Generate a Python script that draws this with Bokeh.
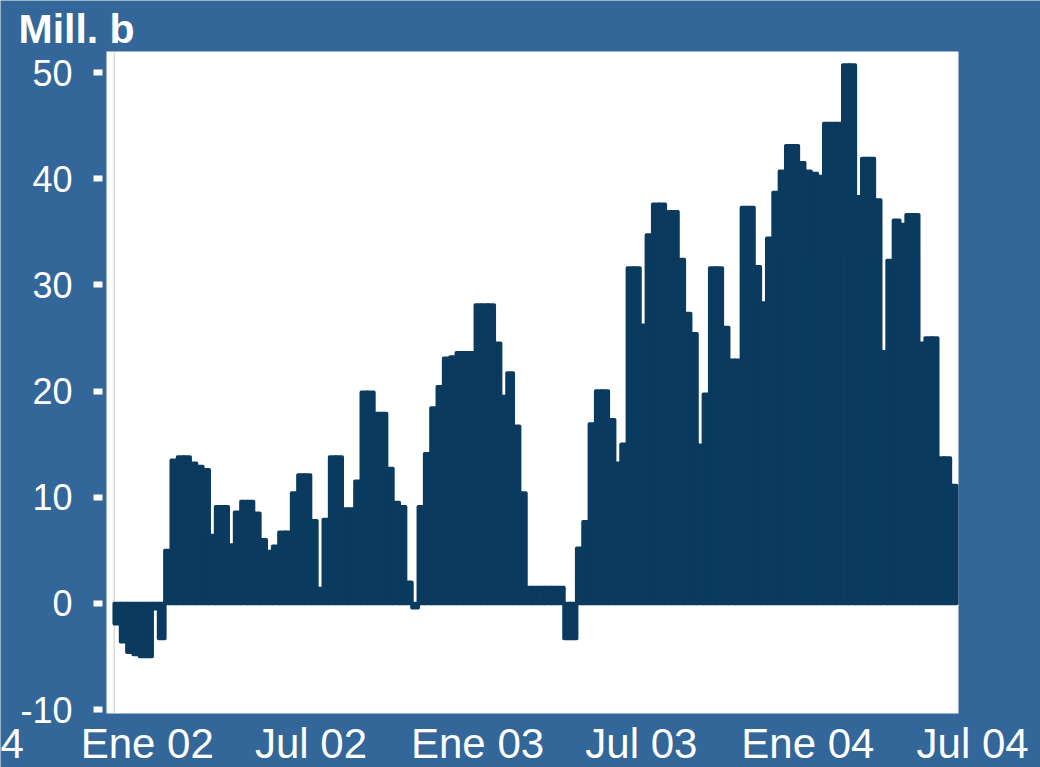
from datetime import datetime, timedelta

from bokeh.plotting import figure
from bokeh.models import Range1d, Label, FixedTicker, ColumnDataSource, BoxAnnotation
from bokeh.embed import file_html
from bokeh.resources import INLINE

# ---------------- data (weekly, Mill. b) ----------------
first_week = datetime(2001, 11, 29)
values = [
    -1.9, -3.6, -4.6, -4.8, -5.0, -5.0, -0.5, -3.3, 5.0, 13.5,
    13.8, 13.8, 13.2, 12.9, 12.6, 6.4, 9.1, 9.1, 5.5, 8.6,
    9.6, 9.6, 8.5, 6.0, 4.9, 5.4, 6.7, 6.7, 10.4, 12.1,
    12.1, 7.8, 1.4, 7.9, 13.8, 13.8, 8.9, 8.9, 11.5, 19.9,
    19.9, 17.9, 17.9, 12.7, 9.5, 9.1, 2.0, -0.4, 9.1, 14.1,
    18.4, 20.4, 23.1, 23.2, 23.6, 23.6, 23.6, 28.1, 28.1, 28.1,
    24.5, 19.5, 21.7, 16.7, 10.4, 1.5, 1.5, 1.5, 1.5, 1.5,
    1.5, -3.3, -3.3, 5.2, 7.7, 16.9, 20.0, 20.0, 17.3, 13.2,
    15.0, 31.6, 31.6, 26.2, 34.7, 37.6, 37.6, 36.9, 36.9, 32.4,
    27.3, 25.4, 14.9, 19.7, 31.6, 31.6, 26.0, 22.9, 22.9, 37.3,
    37.3, 31.7, 28.3, 34.4, 38.7, 40.7, 43.1, 43.1, 41.5, 40.7,
    40.5, 40.2, 45.2, 45.2, 45.2, 50.7, 50.7, 38.3, 41.9, 41.9,
    38.0, 23.7, 32.3, 36.1, 35.7, 36.6, 36.6, 24.5, 25.0, 25.0,
    13.7, 13.7, 11.1,
]
weeks = [first_week + timedelta(days=7 * i) for i in range(len(values))]

x_label_texts = ["4", "Ene 02", "Jul 02", "Ene 03", "Jul 03", "Ene 04", "Jul 04"]
x_label_dates = [datetime(2001, 8, 3), datetime(2002, 1, 1), datetime(2002, 7, 1),
                 datetime(2003, 1, 1), datetime(2003, 7, 1), datetime(2004, 1, 1),
                 datetime(2004, 7, 1)]
y_ticks = [-10, 0, 10, 20, 30, 40, 50]
y_tick_texts = ["-10", "0", "10", "20", "30", "40", "50"]
unit_title = "Mill. b"

# plotted window of the white area
x_start = datetime(2001, 11, 17)
x_end = datetime(2004, 6, 15, 10)
y_bottom, y_top = -10.36, 51.98

# ---------------- styling / layout ----------------
BG = "#336699"
BAR = "#0b3a5f"
FONT = "Liberation Sans"
EPOCH = datetime(1970, 1, 1)
W, H = 1040, 767
AREA_L, AREA_R, AREA_T, AREA_B = 106, 958, 51, 713   # white area in canvas px


def ms(d):
    return int(round((d - EPOCH).total_seconds() * 1000.0))


WEEK_MS = 7 * 24 * 3600 * 1000

# extend ranges so that the frame covers the whole canvas
kx = (ms(x_end) - ms(x_start)) / (AREA_R - AREA_L)
ky = (y_top - y_bottom) / (AREA_B - AREA_T)
xr = Range1d(ms(x_start) - AREA_L * kx, ms(x_end) + (W - AREA_R) * kx)
yr = Range1d(y_bottom - (H - AREA_B) * ky, y_top + AREA_T * ky)

p = figure(
    width=W, height=H, x_range=xr, y_range=yr,
    output_backend="svg", toolbar_location=None,
    min_border_left=0, min_border_right=0, min_border_top=0, min_border_bottom=0,
)
p.background_fill_color = BG
p.border_fill_color = BG
p.outline_line_color = None
p.grid.visible = False

# white plotting area
p.add_layout(BoxAnnotation(left=ms(x_start), right=ms(x_end), bottom=y_bottom, top=y_top,
                           fill_color="white", fill_alpha=1.0, line_color=None,
                           level="underlay"))

# y axis (drawn at the left edge of the white area)
ya = p.yaxis[0]
ya.fixed_location = ms(x_start)
ya.ticker = FixedTicker(ticks=y_ticks)
ya.major_label_overrides = {t: s for t, s in zip(y_ticks, y_tick_texts)}
ya.axis_line_color = None
ya.minor_tick_line_color = None
ya.major_tick_line_color = "white"
ya.major_tick_line_width = 6
ya.major_tick_in = -4
ya.major_tick_out = 13
ya.major_label_standoff = 21
ya.major_label_text_color = "white"
ya.major_label_text_font = FONT
ya.major_label_text_font_size = "36px"

# x axis (drawn at the bottom of the white area)
xa = p.xaxis[0]
xa.fixed_location = y_bottom
xticks = [ms(d) for d in x_label_dates]
xa.ticker = FixedTicker(ticks=xticks)
xa.major_label_overrides = {t: s for t, s in zip(xticks, x_label_texts)}
xa.axis_line_color = None
xa.minor_tick_line_color = None
xa.major_tick_line_color = None
xa.major_tick_in = 0
xa.major_tick_out = 0
xa.major_label_standoff = 6
xa.major_label_text_color = "white"
xa.major_label_text_font = FONT
xa.major_label_text_font_size = "42px"

# thin grey line at the start of the data
x_line = ms(weeks[0]) - WEEK_MS / 2
p.segment(x0=[x_line], y0=[y_bottom], x1=[x_line], y1=[y_top],
          line_color="#c8c8c8", line_width=1)

src = ColumnDataSource(dict(x=[ms(w) for w in weeks], top=values))
p.vbar(x="x", top="top", bottom=0, width=WEEK_MS, source=src,
       fill_color=BAR, line_color=BAR, line_width=3.5, line_join="round")

# unit title
p.add_layout(Label(x=ms(x_start), y=y_top, x_units="data", y_units="data",
                   x_offset=-88, y_offset=23, text=unit_title, text_align="left",
                   text_baseline="alphabetic", text_color="white",
                   text_font=FONT, text_font_size="41px", text_font_style="bold"))

open("out.html", "w").write(file_html(p, INLINE))
